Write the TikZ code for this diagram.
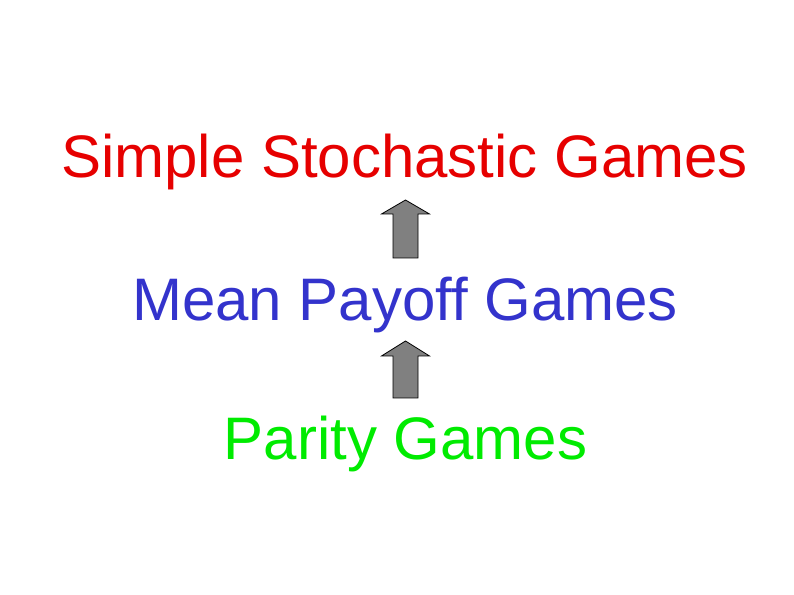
\documentclass[tikz,border=0pt]{standalone}
\usepackage{fontspec}
\setmainfont{Liberation Sans}
\definecolor{sgred}{RGB}{230,0,0}
\definecolor{mpblue}{RGB}{51,51,204}
\definecolor{pggreen}{RGB}{0,235,0}
\newcommand{\mygarrow}[4]{% x, ytip, yheadbase, ybottom
  \draw[garrow] (#1,#2) -- (#1+24,#3) -- (#1+12.5,#3) -- (#1+12.5,#4)
    -- (#1-12.5,#4) -- (#1-12.5,#3) -- (#1-24,#3) -- cycle;}
\begin{document}
\begin{tikzpicture}[x=0.75pt,y=-0.75pt,
  lbl/.style={anchor=base,inner sep=0pt,font=\fontsize{45}{54}\selectfont},
  garrow/.style={draw=black,fill={rgb,255:red,128;green,128;blue,128},line width=0.6pt,line join=miter}]
\useasboundingbox[fill=white] (0,0) rectangle (794,595);
\node[lbl,text=sgred] (ssg) at (404.5,177.5) {Simple Stochastic Games};
\node[lbl,text=mpblue] (mpg) at (405,321) {Mean Payoff Games};
\node[lbl,text=pggreen] (pg) at (405.5,460) {Parity Games};
\mygarrow{405.5}{200}{214}{258}
\mygarrow{405.5}{341}{356}{398}
\end{tikzpicture}
\end{document}
